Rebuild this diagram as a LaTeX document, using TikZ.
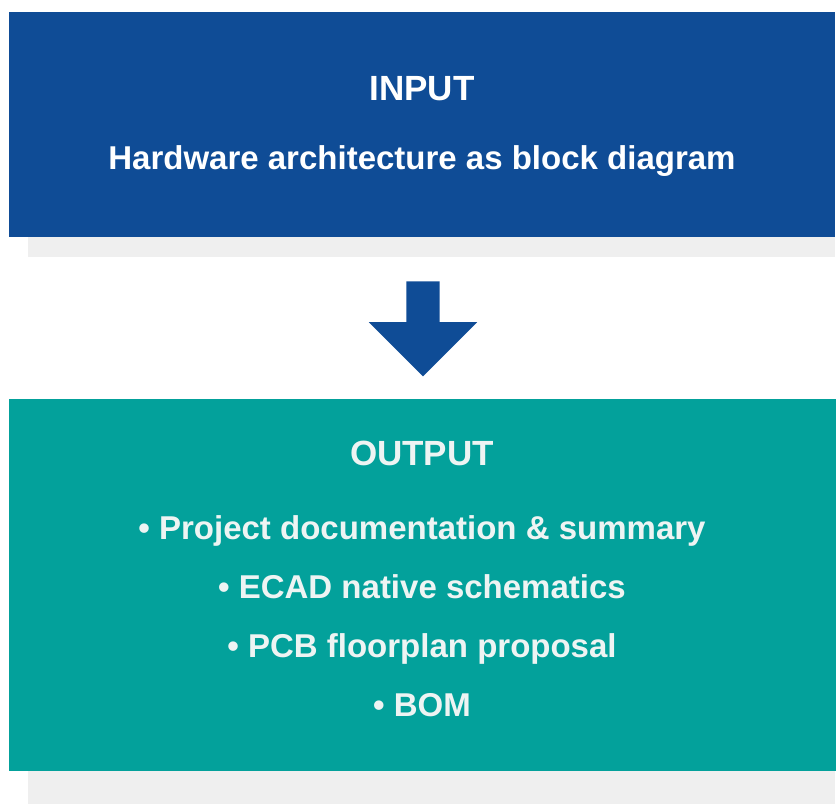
\documentclass[tikz,border=0pt]{standalone}
\usepackage{fontspec}
\setmainfont{Liberation Sans}
\usepackage {tikz}
\usetikzlibrary {positioning}
\usetikzlibrary{shapes.arrows}
\definecolor{inblue}{HTML}{0F4C96}
\definecolor{outteal}{HTML}{03A19B}
\definecolor{shadegray}{HTML}{EFEFEF}
\definecolor{palewhite}{HTML}{EEF4F3}
\tikzset{
    panel/.style = {rectangle, inner sep=0pt, anchor=north west},
    shadowbar/.style = {rectangle, inner sep=0pt, anchor=north west, fill=shadegray},
    heading/.style = {font=\bfseries\fontsize{35}{35}\selectfont, anchor=base},
    subline/.style = {font=\bfseries\fontsize{33}{33}\selectfont, anchor=base},
    itemtext/.style = {font=\bfseries\fontsize{33}{33}\selectfont, anchor=base, text=palewhite}}

\begin{document}
\begin{tikzpicture}[x=1pt ,y=-1pt ,
    blockarrow/.style ={single arrow ,fill=inblue ,inner sep=0pt ,text height=33pt ,text depth=0pt ,
    minimum height=95pt ,minimum width=108pt ,single arrow head extend=37.5pt ,rotate=-90}
    ]
    \useasboundingbox (0,0) rectangle (839,804);
    % boxes and their shadows
    \node[shadowbar, minimum width=807pt, minimum height=20pt] (inshadow) at (28,237) {};
    \node[panel, fill=inblue, minimum width=826pt, minimum height=225pt] (inbox) at (9,12) {};
    \node[shadowbar, minimum width=807pt, minimum height=33pt] (outshadow) at (28,771) {};
    \node[panel, fill=outteal, minimum width=827pt, minimum height=372pt] (outbox) at (9,399) {};
    % arrow
    \node[blockarrow] (arr) at (423,320.5) {};
    % input text
    \node[heading, text=white] (inp) at (422,100) {INPUT};
    \node[below=69pt of inp.base, subline, text=white] (hw) {Hardware architecture as block diagram};
    % output text
    \node[heading, text=palewhite] (outp) at (422,465) {OUTPUT};
    \node[below=74pt of outp.base, itemtext] (prj) {\textbullet{} Project documentation \& summary};
    \node[below=59pt of prj.base, itemtext] (ecad) {\textbullet{} ECAD native schematics};
    \node[below=59pt of ecad.base, itemtext] (pcb) {\textbullet{} PCB floorplan proposal};
    \node[below=59pt of pcb.base, itemtext] (bom) {\textbullet{} BOM};
\end{tikzpicture}
\end{document}
